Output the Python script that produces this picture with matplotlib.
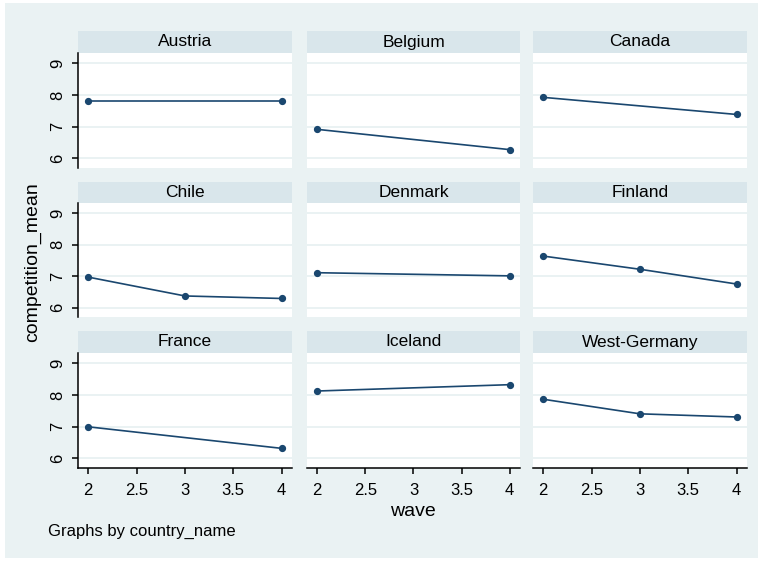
import matplotlib
matplotlib.use('Agg')
import matplotlib.pyplot as plt
from matplotlib.patches import Rectangle

plt.rcParams['font.family'] = ['Liberation Sans', 'DejaVu Sans']

# data
countries = ['Austria', 'Belgium', 'Canada', 'Chile', 'Denmark', 'Finland',
             'France', 'Iceland', 'West-Germany']
waves_24 = [2, 4]
waves_234 = [2, 3, 4]
austria = [7.81, 7.81]
belgium = [6.92, 6.28]
canada = [7.93, 7.39]
chile = [6.97, 6.37, 6.29]
denmark = [7.11, 7.01]
finland = [7.64, 7.22, 6.75]
france = [7.00, 6.32]
iceland = [8.13, 8.33]
west_germany = [7.87, 7.41, 7.31]

series = [(waves_24, austria), (waves_24, belgium), (waves_24, canada),
          (waves_234, chile), (waves_24, denmark), (waves_234, finland),
          (waves_24, france), (waves_24, iceland), (waves_234, west_germany)]

yticks = [6, 7, 8, 9]
xticks = [2, 2.5, 3, 3.5, 4]
xtick_labels = ['2', '2.5', '3', '3.5', '4']

W, H = 765, 563
bg = '#eaf2f3'
strip_col = '#d9e6eb'
line_col = '#1a476f'

fig = plt.figure(figsize=(W / 100, H / 100), dpi=100, facecolor='white')
fig.patches.append(Rectangle((5 / W, 1 - 558 / H), 753 / W, 555 / H,
                             transform=fig.transFigure, facecolor=bg,
                             edgecolor='none', zorder=-10))

def box(x0, x1, y0, y1):
    return [x0 / W, 1 - y1 / H, (x1 - x0) / W, (y1 - y0) / H]

cols = [(78, 292), (307, 520), (533, 747)]
rows = [(31, 53, 168), (182, 203, 317), (331, 353, 468)]

for i, name in enumerate(countries):
    r, c = divmod(i, 3)
    x0, x1 = cols[c]
    s0, p0, p1 = rows[r]

    st = fig.add_axes(box(x0, x1, s0, p0))
    st.set_facecolor(strip_col)
    st.set_xticks([])
    st.set_yticks([])
    for sp in st.spines.values():
        sp.set_visible(False)
    st.text(0.5, 0.5, name, ha='center', va='center', fontsize=12.5,
            transform=st.transAxes)

    ax = fig.add_axes(box(x0, x1, p0, p1))
    ax.set_facecolor('white')
    ax.set_xlim(1.894, 4.107)
    ax.set_ylim(5.7, 9.33)
    for y in yticks:
        ax.axhline(y, color=bg, lw=1.4, zorder=1)
    wv, vals = series[i]
    ax.plot(wv, vals, color=line_col, lw=1.2, marker='o', markersize=4.2,
            zorder=3, clip_on=False)

    for sp in ax.spines.values():
        sp.set_visible(False)
    ax.set_xticks(xticks)
    ax.set_yticks(yticks)
    ax.tick_params(axis='both', length=4.5, width=1.1, color='black',
                   labelsize=12)
    if c == 0:
        ax.spines['left'].set_visible(True)
        ax.spines['left'].set_linewidth(1.1)
        ax.set_yticklabels([str(t) for t in yticks], rotation=90, va='center')
        ax.tick_params(axis='y', pad=5)
    else:
        ax.tick_params(axis='y', left=False, labelleft=False)
    if r == 2:
        ax.spines['bottom'].set_visible(True)
        ax.spines['bottom'].set_linewidth(1.1)
        ax.set_xticklabels(xtick_labels)
        ax.tick_params(axis='x', pad=6)
    else:
        ax.tick_params(axis='x', bottom=False, labelbottom=False)

fig.text(413 / W, 1 - 511 / H, 'wave', ha='center', va='center', fontsize=14)
fig.text(33 / W, 1 - 262 / H, 'competition_mean', ha='center', va='center',
         rotation=90, fontsize=14)
fig.text(48 / W, 1 - 531 / H, 'Graphs by country_name', ha='left',
         va='center', fontsize=12)

fig.savefig('out.png', dpi=100, facecolor='white')
